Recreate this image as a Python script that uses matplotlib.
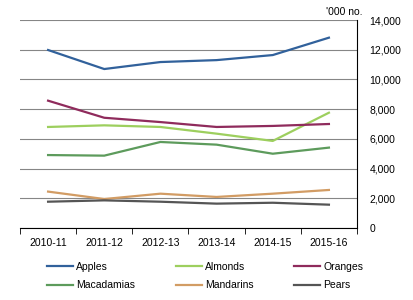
import matplotlib.pyplot as plt
import numpy as np

plt.rcParams['font.family'] = ['Liberation Sans', 'DejaVu Sans']

# data ('000 no.)
years = ['2010-11', '2011-12', '2012-13', '2013-14', '2014-15', '2015-16']
apples = [11980, 10700, 11170, 11300, 11640, 12810]
almonds = [6800, 6910, 6800, 6350, 5860, 7760]
oranges = [8570, 7420, 7130, 6800, 6870, 7000]
macadamias = [4910, 4870, 5790, 5610, 5000, 5410]
mandarins = [2450, 1950, 2310, 2090, 2310, 2560]
pears = [1770, 1860, 1770, 1640, 1700, 1570]

series = [('Apples', apples, '#31619b'),
          ('Almonds', almonds, '#9dcf5e'),
          ('Oranges', oranges, '#8f2b5c'),
          ('Macadamias', macadamias, '#5d9b5c'),
          ('Mandarins', mandarins, '#d29c64'),
          ('Pears', pears, '#555555')]

fig = plt.figure(figsize=(4.13, 3.0), dpi=100)
ax = fig.add_axes([20/413, 1-228/300, 337/413, 208/300])

x = np.arange(len(years))
for name, vals, col in series:
    ax.plot(x, vals, color=col, lw=1.6, label=name)

ax.set_xlim(-0.5, len(years)-0.5)
ax.set_ylim(0, 14000)
ax.set_yticks(np.arange(0, 14001, 2000))
ax.set_yticklabels([f'{v:,}' for v in range(0, 14001, 2000)])
ax.yaxis.tick_right()
ax.yaxis.grid(True, color='#868686', lw=0.8)
ax.set_axisbelow(True)
ax.tick_params(axis='y', length=0, labelsize=7.5, pad=9)

ax.set_xticks(x)
ax.set_xticklabels(years)
ax.tick_params(axis='x', length=0, labelsize=7.5, pad=7)
ax.set_xticks(np.arange(-0.5, len(years)), minor=True)
ax.tick_params(axis='x', which='minor', length=4, direction='out', color='black')

for s in ['left', 'top']:
    ax.spines[s].set_visible(False)
ax.spines['right'].set_color('black')
ax.spines['bottom'].set_color('black')

fig.text(362/413, 1-12/300, "'000 no.", fontsize=7.5, ha='right', va='center')

# legend fills row by row like the original
h, l = ax.get_legend_handles_labels()
order = [0, 3, 1, 4, 2, 5]
fig.legend([h[i] for i in order], [l[i] for i in order], ncol=3,
           loc='center left', bbox_to_anchor=(47/413, 1-276/300),
           frameon=False, fontsize=7.5, handlelength=2.5, handletextpad=0.3,
           columnspacing=3.9, labelspacing=0.8, borderpad=0, borderaxespad=0)

fig.savefig('out.png', dpi=100)
